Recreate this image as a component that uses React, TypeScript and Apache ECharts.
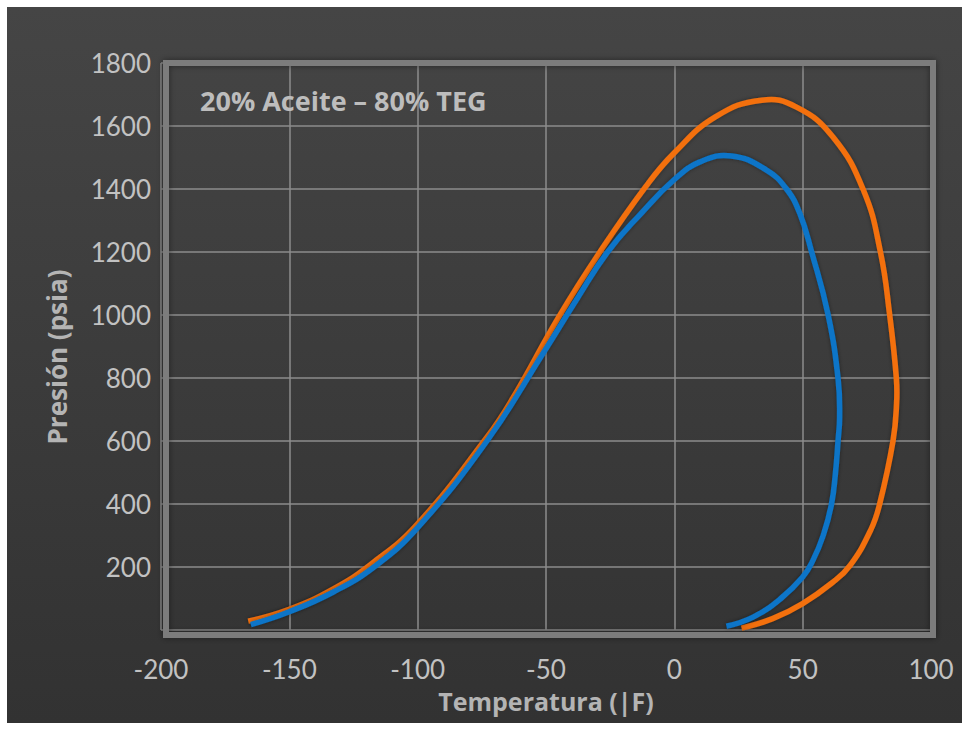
import React, { useEffect, useRef } from "react";
import * as echarts from "echarts";

// Temperature (°F) / pressure (psia)
const blueTemp = [-165, -150, -133, -117, -100, -73, -51, -38, -26, -13, 0, 10, 22.3, 35.9, 43.7, 48.9, 53.5, 59.9, 63.8, 64.4, 63.8, 62.8, 61.2, 58, 54, 50, 41.5, 30.7, 20.3];
const bluePres = [17, 58, 120, 200, 325, 600, 880, 1050, 1200, 1322, 1430, 1486, 1505, 1460, 1400, 1322, 1200, 1001, 798, 676, 602, 500, 398, 300, 221, 168, 100, 41, 12];

const orangeTemp = [-166, -150, -133, -118, -100, -73, -63, -45, -29, -11, 0, 16, 34, 47.6, 61.8, 73.7, 80.3, 83.9, 86.5, 86.6, 85.2, 80, 76.5, 68.5, 61.5, 50, 38.3, 26.2];
const orangePres = [28, 66, 130, 210, 337, 612, 735, 994, 1200, 1409, 1515, 1629, 1682, 1660, 1565, 1396, 1200, 1000, 800, 720, 600, 400, 317, 205, 150, 84, 36, 6];

const xMin = -200, xMax = 100, xStep = 50;
const yMin = 0, yMax = 1800, yStep = 200;

const chartTitle = "20% Aceite – 80% TEG";
const xTitle = "Temperatura (|F)";
const yTitle = "Presión (psia)";

const FONT = "Lato, 'Open Sans', sans-serif";
const BOLD_FONT = "'Open Sans', Lato, sans-serif";

function curveSeries(name: string, temps: number[], pres: number[], color: string, z: number) {
  return {
    name,
    type: "custom",
    coordinateSystem: "cartesian2d",
    encode: { x: 0, y: 1 },
    z,
    data: temps.map((t, i) => [t, pres[i]]),
    renderItem: (params: any, api: any) => {
      if (params.dataIndex !== 0) return null;
      const pts = temps.map((t, i) => api.coord([t, pres[i]]));
      return {
        type: "polyline",
        shape: { points: pts, smooth: 0.45 },
        style: {
          stroke: color,
          lineWidth: 5.5,
          fill: "none",
          shadowBlur: 4,
          shadowColor: "rgba(0,0,0,0.4)",
        },
      };
    },
  };
}

export default function App() {
  const ref = useRef<HTMLDivElement>(null);
  useEffect(() => {
    if (!ref.current) return;
    const chart = echarts.init(ref.current, undefined, { renderer: "svg" });
    chart.setOption({
      animation: false,
      backgroundColor: "#ffffff",
      textStyle: { fontFamily: FONT },
      grid: { left: 161, top: 63, width: 770, height: 567, containLabel: false },
      xAxis: {
        type: "value",
        min: xMin,
        max: xMax,
        interval: xStep,
        name: xTitle,
        nameLocation: "middle",
        nameGap: 58,
        nameTextStyle: { color: "#b4b4b4", fontSize: 25, fontWeight: "bold", fontFamily: BOLD_FONT },
        axisLine: { show: false },
        axisTick: { show: false },
        axisLabel: { color: "#c2c2c2", fontSize: 26, margin: 26, fontFamily: FONT },
        splitLine: { show: true, lineStyle: { color: "#8c8c8c", width: 1.5 } },
      },
      yAxis: {
        type: "value",
        min: yMin,
        max: yMax,
        interval: yStep,
        axisLine: { show: false },
        axisTick: { show: false },
        axisLabel: {
          color: "#c2c2c2",
          fontSize: 26,
          margin: 10,
          fontFamily: FONT,
          formatter: (v: number) => (v === 0 ? "" : String(v)),
        },
        splitLine: { show: true, lineStyle: { color: "#8c8c8c", width: 1.5 } },
      },
      graphic: [
        {
          type: "rect",
          z: -100,
          silent: true,
          shape: { x: 7, y: 7, width: 955, height: 716 },
          style: {
            fill: new echarts.graphic.LinearGradient(0, 0, 0, 1, [
              { offset: 0, color: "#454545" },
              { offset: 1, color: "#323232" },
            ]),
          },
        },
        {
          type: "rect",
          z: 5,
          silent: true,
          shape: { x: 166, y: 63, width: 767, height: 572 },
          style: {
            fill: "none",
            stroke: "#7c7c7c",
            lineWidth: 6,
            shadowBlur: 6,
            shadowColor: "rgba(0,0,0,0.45)",
          },
        },
        {
          type: "text",
          z: 6,
          x: 57,
          y: 357,
          rotation: Math.PI / 2,
          style: {
            text: yTitle,
            fill: "#b4b4b4",
            font: `bold 26px ${BOLD_FONT}`,
            align: "center",
            verticalAlign: "middle",
          },
        },
        {
          type: "text",
          z: 6,
          x: 200,
          y: 100,
          style: {
            text: chartTitle,
            fill: "#bdbdbd",
            font: `bold 27px ${BOLD_FONT}`,
            align: "left",
            verticalAlign: "middle",
          },
        },
      ],
      series: [
        curveSeries("80% TEG (naranja)", orangeTemp, orangePres, "#F3700F", 2),
        curveSeries("80% TEG (azul)", blueTemp, bluePres, "#0974C8", 3),
      ],
    });
    return () => chart.dispose();
  }, []);
  return (
    <div style={{ position: "absolute", left: 0, top: 0, width: 963, height: 729, background: "#fff" }}>
      <div ref={ref} style={{ width: 963, height: 729 }} />
    </div>
  );
}
